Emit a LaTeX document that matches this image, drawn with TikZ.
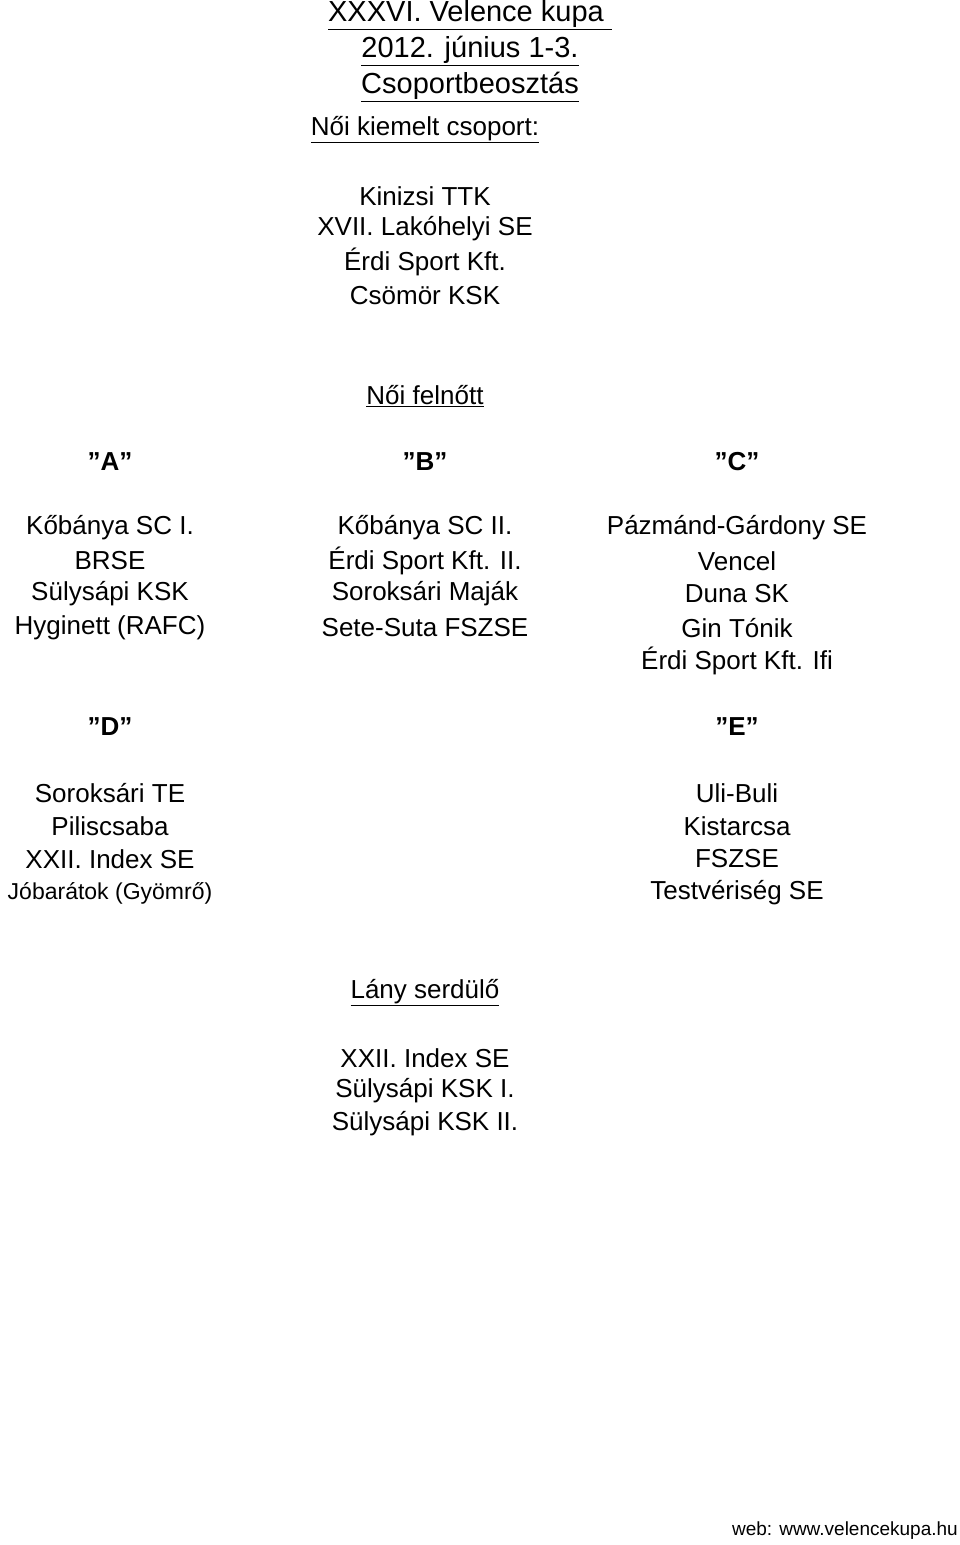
\documentclass[tikz,border=0pt]{standalone}
\usepackage{fontspec}
\setmainfont{Liberation Sans}
\begin{document}
\begin{tikzpicture}[x=1pt,y=-1pt,
  t/.style={inner sep=0pt,font=\fontsize{26}{26}\selectfont},
  big/.style={inner sep=0pt,font=\fontsize{29}{29}\selectfont},
  hd/.style={inner sep=0pt,font=\fontsize{26}{26}\selectfont\bfseries}]
\useasboundingbox[fill=white] (0,0) rectangle (960,1545);
\node[big] (t1) at (470,15) {\underline{XXXVI. Velence kupa\ }};
\node[big] (t2) at (470,51) {\underline{2012. június 1-3.}};
\node[big] (t3) at (470,87) {\underline{Csoportbeosztás}};
\node[t] (k0) at (425,130) {\underline{Női kiemelt csoport:}};
\node[t] (k1) at (425,196) {Kinizsi TTK};
\node[t] (k2) at (425,229) {XVII. Lakóhelyi SE};
\node[t] (k3) at (425,262) {Érdi Sport Kft.};
\node[t] (k4) at (425,296) {Csömör KSK};
\node[t] (nf) at (425,396) {\underline{Női felnőtt}};
\node[hd] (A) at (110,462) {"A"};
\node[hd] (B) at (425,462) {"B"};
\node[hd] (C) at (737,462) {"C"};
\node[t] (a1) at (110,528) {Kőbánya SC I.};
\node[t] (a2) at (110,561) {BRSE};
\node[t] (a3) at (110,594) {Sülysápi KSK};
\node[t] (a4) at (110,628) {Hyginett (RAFC)};
\node[t] (b1) at (425,528) {Kőbánya SC II.};
\node[t] (b2) at (425,561) {Érdi Sport Kft. II.};
\node[t] (b3) at (425,594) {Soroksári Maják};
\node[t] (b4) at (425,628) {Sete-Suta FSZSE};
\node[t] (c1) at (737,528) {Pázmánd-Gárdony SE};
\node[t] (c2) at (737,561) {Vencel};
\node[t] (c3) at (737,594) {Duna SK};
\node[t] (c4) at (737,628) {Gin Tónik};
\node[t] (c5) at (737,661) {Érdi Sport Kft. Ifi};
\node[hd] (D) at (110,727) {"D"};
\node[hd] (E) at (737,727) {"E"};
\node[t] (d1) at (110,793) {Soroksári TE};
\node[t] (d2) at (110,826) {Piliscsaba};
\node[t] (d3) at (110,859) {XXII. Index SE};
\node[inner sep=0pt,font=\fontsize{23}{23}\selectfont] (d4) at (110,893) {Jóbarátok (Gyömrő)};
\node[t] (e1) at (737,793) {Uli-Buli};
\node[t] (e2) at (737,826) {Kistarcsa};
\node[t] (e3) at (737,859) {FSZSE};
\node[t] (e4) at (737,893) {Testvériség SE};
\node[t] (ls) at (425,993) {\underline{Lány serdülő}};
\node[t] (l1) at (425,1058) {XXII. Index SE};
\node[t] (l2) at (425,1091) {Sülysápi KSK I.};
\node[t] (l3) at (425,1124) {Sülysápi KSK II.};
\node[inner sep=0pt,anchor=east,font=\fontsize{19}{19}\selectfont] (w) at (958,1531) {web: www.velencekupa.hu};
\end{tikzpicture}
\end{document}
